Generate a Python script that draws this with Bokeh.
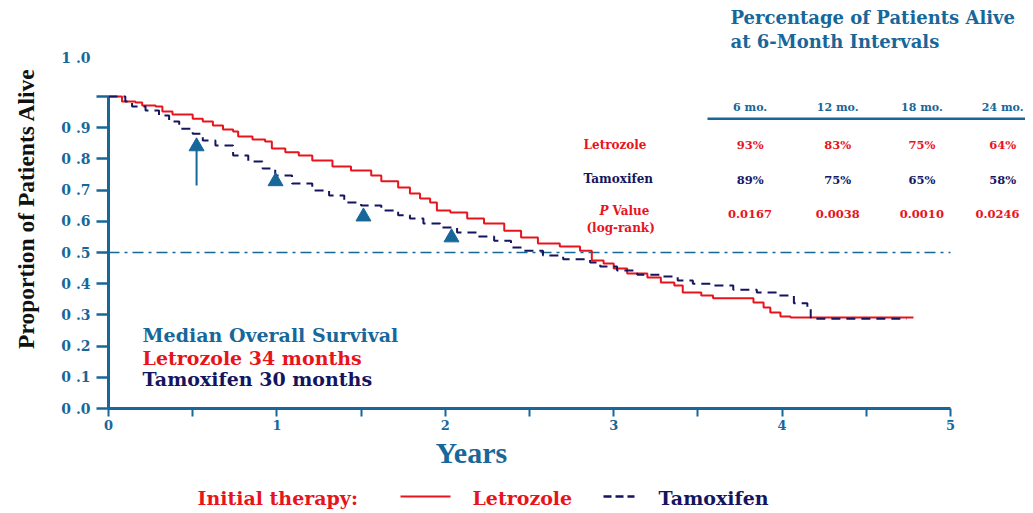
from bokeh.plotting import figure
from bokeh.models import Range1d, LinearAxis, FixedTicker, Title
from bokeh.layouts import column
from bokeh.embed import file_html
from bokeh.resources import INLINE
from bokeh.core.properties import value

BLUE = "#17679a"
RED = "#e8141c"
NAVY = "#15155f"
SERIF = value("DejaVu Serif")
TIMES = "Liberation Serif"

# ---------------- data ----------------
let_t = [0, 0.08, 0.16, 0.20, 0.28, 0.32, 0.38, 0.50, 0.56, 0.62, 0.68, 0.74, 0.77, 0.855,
         0.93, 0.97, 1.05, 1.13, 1.21, 1.33, 1.44, 1.56, 1.62, 1.72, 1.79, 1.85, 1.91, 1.95,
         2.03, 2.13, 2.23, 2.35, 2.45, 2.55, 2.68, 2.80, 2.87, 2.94, 3.00, 3.08, 3.20, 3.28,
         3.36, 3.41, 3.52, 3.59, 3.83, 3.89, 3.93, 3.99, 4.05, 4.78]
let_s = [1.0, 0.984, 0.981, 0.971, 0.968, 0.952, 0.942, 0.929, 0.92, 0.907, 0.894, 0.888,
         0.872, 0.862, 0.856, 0.833, 0.821, 0.811, 0.795, 0.776, 0.763, 0.747, 0.728, 0.708,
         0.689, 0.673, 0.66, 0.635, 0.628, 0.609, 0.593, 0.57, 0.548, 0.529, 0.519, 0.506,
         0.474, 0.465, 0.449, 0.433, 0.42, 0.404, 0.394, 0.372, 0.362, 0.353, 0.34, 0.324,
         0.308, 0.295, 0.292, 0.292]

tam_t = [0, 0.10, 0.14, 0.22, 0.30, 0.36, 0.42, 0.50, 0.56, 0.635, 0.74, 0.83, 0.915, 0.99,
         1.09, 1.21, 1.31, 1.40, 1.50, 1.62, 1.72, 1.79, 1.87, 1.97, 2.07, 2.19, 2.29, 2.39,
         2.46, 2.58, 2.70, 2.86, 2.92, 3.02, 3.14, 3.28, 3.38, 3.47, 3.59, 3.71, 3.85, 3.97,
         4.07, 4.15, 4.17, 4.74]
tam_s = [1.0, 0.984, 0.968, 0.955, 0.939, 0.92, 0.897, 0.881, 0.859, 0.843, 0.811, 0.792,
         0.769, 0.747, 0.721, 0.699, 0.683, 0.66, 0.651, 0.635, 0.619, 0.609, 0.593, 0.58,
         0.564, 0.551, 0.538, 0.516, 0.506, 0.49, 0.478, 0.468, 0.455, 0.442, 0.429, 0.423,
         0.41, 0.40, 0.394, 0.381, 0.372, 0.362, 0.337, 0.32, 0.288, 0.288]

marker_t = [0.523, 0.992, 1.514, 2.037]
marker_s = [0.840, 0.728, 0.615, 0.548]

interval_labels = ["6 mo.", "12 mo.", "18 mo.", "24 mo."]
let_pct = ["93%", "83%", "75%", "64%"]
tam_pct = ["89%", "75%", "65%", "58%"]
p_values = ["0.0167", "0.0038", "0.0010", "0.0246"]

median_lines = ["Median Overall Survival", "Letrozole 34 months", "Tamoxifen 30 months"]

y_ticks = [0.0, 0.1, 0.2, 0.3, 0.4, 0.5, 0.6, 0.7, 0.8, 0.9, 1.0]
y_label_pos = [0.0, 0.1, 0.2, 0.3, 0.4, 0.5, 0.6, 0.7, 0.8, 0.9, 1.125]
y_tick_labels = ["0 .0", "0 .1", "0 .2", "0 .3", "0 .4", "0 .5", "0 .6", "0 .7", "0 .8", "0 .9", "1 .0"]
x_ticks = [0, 0.5, 1, 1.5, 2, 2.5, 3, 3.5, 4, 4.5, 5]
x_tick_labels = ["0", "", "1", "", "2", "", "3", "", "4", "", "5"]

# ---------------- layout constants ----------------
PX_PER_YEAR = 168.4
PX_PER_UNIT = 312.0
LEFT = 106
FIG_W = 1025
FRAME_W = FIG_W - LEFT
FRAME_H = 400
X0 = -2 / PX_PER_YEAR

p = figure(width=FIG_W, height=483,
           x_range=Range1d(X0, X0 + FRAME_W / PX_PER_YEAR), y_range=Range1d(0, FRAME_H / PX_PER_UNIT),
           x_axis_type=None, y_axis_type=None,
           min_border_left=LEFT, min_border_right=0, min_border_top=8, min_border_bottom=75,
           output_backend="svg", toolbar_location=None)
p.outline_line_color = None
p.background_fill_color = "white"

# y axis (labels on "major" ticks, tick marks on "minor" ticks)
yax = LinearAxis(ticker=FixedTicker(ticks=y_label_pos, minor_ticks=y_ticks), bounds=(0, 1.14),
                 major_label_overrides={t: l for t, l in zip(y_label_pos, y_tick_labels)})
yax.axis_line_color = None
yax.major_tick_line_color = None
yax.minor_tick_line_color = BLUE
yax.minor_tick_line_width = 2.5
yax.minor_tick_out = 10
yax.minor_tick_in = 2
yax.major_label_text_font = "DejaVu Serif"
yax.major_label_text_font_style = "bold"
yax.major_label_text_font_size = "14px"
yax.major_label_text_color = BLUE
yax.major_label_standoff = 6
p.add_layout(yax, "left")

ylab = LinearAxis(ticker=FixedTicker(ticks=[]), axis_label="Proportion of Patients Alive")
ylab.axis_line_color = None
ylab.major_tick_line_color = None
ylab.minor_tick_line_color = None
ylab.axis_label_text_font = TIMES
ylab.axis_label_text_font_style = "bold"
ylab.axis_label_text_font_size = "23.5px"
ylab.axis_label_text_color = "#111111"
ylab.axis_label_standoff = 20
p.add_layout(ylab, "left")

# y axis line itself
p.line(x=[0, 0], y=[0, 1.0], line_color=BLUE, line_width=3)

# x axis
xax = LinearAxis(ticker=FixedTicker(ticks=x_ticks), bounds=(0, 5),
                 major_label_overrides={t: l for t, l in zip(x_ticks, x_tick_labels)})
xax.axis_line_color = BLUE
xax.axis_line_width = 3
xax.major_tick_line_color = BLUE
xax.major_tick_line_width = 2
xax.major_tick_out = 8
xax.major_tick_in = 0
xax.minor_tick_line_color = None
xax.major_label_text_font = "DejaVu Serif"
xax.major_label_text_font_style = "bold"
xax.major_label_text_font_size = "13px"
xax.major_label_text_color = BLUE
xax.major_label_standoff = 3
p.add_layout(xax, "below")

p.add_layout(Title(text="Years", align="left", offset=329, standoff=2,
                   text_font=TIMES, text_font_style="bold", text_font_size="30px",
                   text_color=BLUE), "below")

# median reference line
p.line(x=[0, 5], y=[0.5, 0.5], line_color=BLUE, line_width=1.5, line_dash="11 5 3 5")

# curves
p.step(x=let_t, y=let_s, mode="after", line_color=RED, line_width=2)
p.step(x=tam_t, y=tam_s, mode="after", line_color=NAVY, line_width=2, line_dash="9 6")

# arrow + triangles
p.segment(x0=[marker_t[0]], y0=[0.715], x1=[marker_t[0]], y1=[marker_s[0] - 0.01],
          line_color=BLUE, line_width=2)
p.scatter(x=marker_t, y=marker_s, marker="triangle", size=15, fill_color=BLUE, line_color=BLUE)

# title of the table
p.text(x=[3.694, 3.694], y=[1.253, 1.176],
       text=["Percentage of Patients Alive", "at 6-Month Intervals"],
       text_font=SERIF, text_font_style="bold", text_font_size="18px", text_color=BLUE,
       text_align="left", text_baseline="middle")

col_x = [3.81, 4.33, 4.83, 5.31]
p_x = [3.81, 4.33, 4.83, 5.279]
p.text(x=col_x, y=[0.965] * 4, text=interval_labels, text_font=SERIF, text_font_style="bold",
       text_font_size="11px", text_color=BLUE, text_align="center", text_baseline="middle")
p.line(x=[3.557, 5.6], y=[0.929, 0.929], line_color=BLUE, line_width=2.5)

p.text(x=col_x, y=[0.843] * 4, text=let_pct, text_font=SERIF, text_font_style="bold",
       text_font_size="11.5px", text_color=RED, text_align="center", text_baseline="middle")
p.text(x=col_x, y=[0.731] * 4, text=tam_pct, text_font=SERIF, text_font_style="bold",
       text_font_size="11.5px", text_color=NAVY, text_align="center", text_baseline="middle")
p.text(x=p_x, y=[0.625] * 4, text=p_values, text_font=SERIF, text_font_style="bold",
       text_font_size="11.5px", text_color=RED, text_align="center", text_baseline="middle")

p.text(x=[2.821], y=[0.846], text=["Letrozole"], text_font=SERIF, text_font_style="bold",
       text_font_size="12px", text_color=RED, text_align="left", text_baseline="middle")
p.text(x=[2.821], y=[0.734], text=["Tamoxifen"], text_font=SERIF, text_font_style="bold",
       text_font_size="12px", text_color=NAVY, text_align="left", text_baseline="middle")
p.text(x=[2.969], y=[0.634], text=["P"], text_font=SERIF, text_font_style="bold italic",
       text_font_size="12px", text_color=RED, text_align="right", text_baseline="middle")
p.text(x=[2.993], y=[0.634], text=["Value"], text_font=SERIF, text_font_style="bold",
       text_font_size="12px", text_color=RED, text_align="left", text_baseline="middle")
p.text(x=[2.838], y=[0.580], text=["(log-rank)"], text_font=SERIF, text_font_style="bold",
       text_font_size="12px", text_color=RED, text_align="left", text_baseline="middle")

# median survival text
p.text(x=[0.202] * 3, y=[0.234, 0.163, 0.093], text=median_lines, text_font=SERIF,
       text_font_style="bold", text_font_size="19px", text_color=[BLUE, RED, NAVY],
       text_align="left", text_baseline="middle")

# ---------------- legend strip (x in page pixels) ----------------
lg = figure(width=FIG_W, height=28, x_range=Range1d(LEFT, FIG_W), y_range=Range1d(0, 28),
            x_axis_type=None, y_axis_type=None,
            min_border_left=LEFT, min_border_right=0, min_border_top=0, min_border_bottom=0,
            output_backend="svg", toolbar_location=None)
lg.outline_line_color = None
lg.text(x=[197, 472, 658], y=[14, 14, 14], text=["Initial therapy:", "Letrozole", "Tamoxifen"],
        text_font=SERIF, text_font_style="bold", text_font_size="19px",
        text_color=[RED, RED, NAVY], text_align="left", text_baseline="middle")
lg.line(x=[400, 450], y=[15, 15], line_color=RED, line_width=2)
lg.line(x=[603, 634], y=[15, 15], line_color=NAVY, line_width=2.5, line_dash="8 4")

layout = column(p, lg, spacing=0)
open("out.html", "w").write(file_html(layout, INLINE))
